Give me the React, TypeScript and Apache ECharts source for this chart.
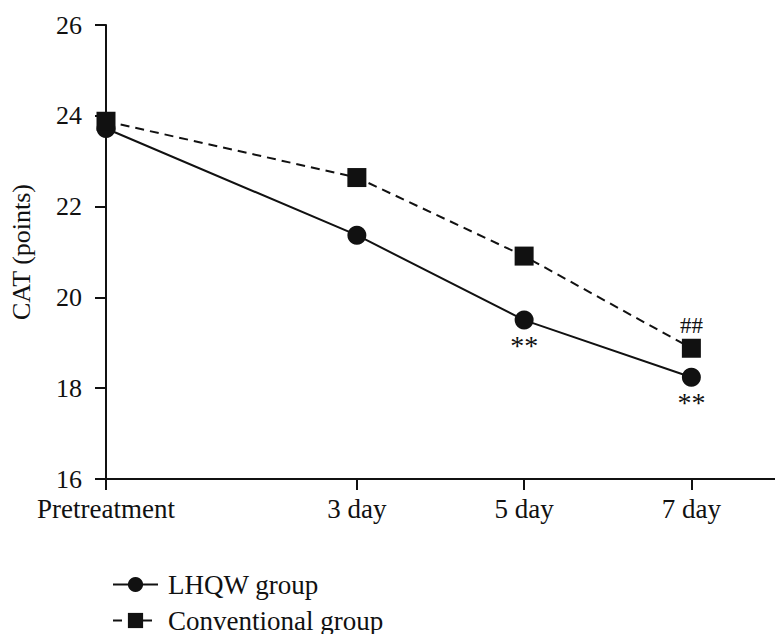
import React, { useEffect, useRef } from "react";
import * as echarts from "echarts";

const dayValues = [0, 3, 5, 7];
const dayLabels = ["Pretreatment", "3 day", "5 day", "7 day"];
const lhqwValues = [23.72, 21.37, 19.5, 18.24];
const conventionalValues = [23.88, 22.64, 20.91, 18.88];
const lhqwMarks = ["", "", "**", "**"];
const conventionalMarks = ["", "", "", "##"];
const yTicks = [16, 18, 20, 22, 24, 26];

const FONT = "'Liberation Serif', 'Times New Roman', serif";
const INK = "#111111";

export default function App() {
  const ref = useRef<HTMLDivElement>(null);

  useEffect(() => {
    if (!ref.current) return;
    const chart = echarts.init(ref.current, undefined, { renderer: "svg" });

    const lhqwData = dayValues.map((d, i) => {
      const item: any = { value: [d, lhqwValues[i]] };
      if (lhqwMarks[i]) {
        item.label = {
          show: true,
          position: "bottom",
          distance: 2,
          formatter: lhqwMarks[i],
          fontFamily: FONT,
          fontSize: 28,
          color: INK,
        };
      }
      return item;
    });
    const convData = dayValues.map((d, i) => {
      const item: any = { value: [d, conventionalValues[i]] };
      if (conventionalMarks[i]) {
        item.label = {
          show: true,
          position: "top",
          distance: 2,
          formatter: conventionalMarks[i],
          fontFamily: FONT,
          fontSize: 23,
          color: INK,
        };
      }
      return item;
    });

    chart.setOption({
      animation: false,
      backgroundColor: "#ffffff",
      grid: { left: 106, top: 25, width: 675, height: 454, containLabel: false },
      legend: {
        orient: "vertical",
        left: 107,
        top: 566,
        height: 66,
        itemWidth: 45,
        itemHeight: 19,
        itemGap: 9,
        textStyle: {
          fontFamily: FONT,
          fontSize: 27,
          lineHeight: 26,
          color: INK,
          padding: [0, 0, 0, 5],
        },
        data: ["LHQW group", "Conventional group"],
      },
      xAxis: {
        type: "value",
        min: 0,
        max: 8,
        axisLine: { show: true, onZero: false, lineStyle: { color: INK, width: 2 } },
        axisTick: {
          show: true,
          customValues: dayValues,
          length: 11,
          lineStyle: { color: INK, width: 2 },
        },
        axisLabel: {
          customValues: dayValues,
          margin: 16,
          fontFamily: FONT,
          fontSize: 27,
          color: INK,
          formatter: (v: number) => {
            const idx = dayValues.indexOf(v);
            return idx >= 0 ? dayLabels[idx] : "";
          },
        },
        splitLine: { show: false },
      },
      yAxis: {
        type: "value",
        min: yTicks[0],
        max: yTicks[yTicks.length - 1],
        interval: 2,
        name: "CAT (points)",
        nameLocation: "middle",
        nameGap: 72,
        nameTextStyle: { fontFamily: FONT, fontSize: 26, color: INK },
        axisLine: { show: true, lineStyle: { color: INK, width: 2 } },
        axisTick: { show: true, length: 11, lineStyle: { color: INK, width: 2 } },
        axisLabel: {
          margin: 24,
          fontFamily: FONT,
          fontSize: 26,
          color: INK,
        },
        splitLine: { show: false },
      },
      series: [
        {
          name: "LHQW group",
          type: "line",
          data: lhqwData,
          symbol: "circle",
          symbolSize: 19,
          itemStyle: { color: INK },
          lineStyle: { color: INK, width: 2, type: "solid" },
          z: 3,
        },
        {
          name: "Conventional group",
          type: "line",
          data: convData,
          symbol: "rect",
          symbolSize: 19,
          itemStyle: { color: INK },
          lineStyle: { color: INK, width: 2, type: [9, 6] },
          z: 4,
        },
      ],
    });

    return () => {
      chart.dispose();
    };
  }, []);

  return (
    <div
      ref={ref}
      style={{ position: "fixed", left: 0, top: 0, width: 775, height: 634, background: "#fff" }}
    />
  );
}
